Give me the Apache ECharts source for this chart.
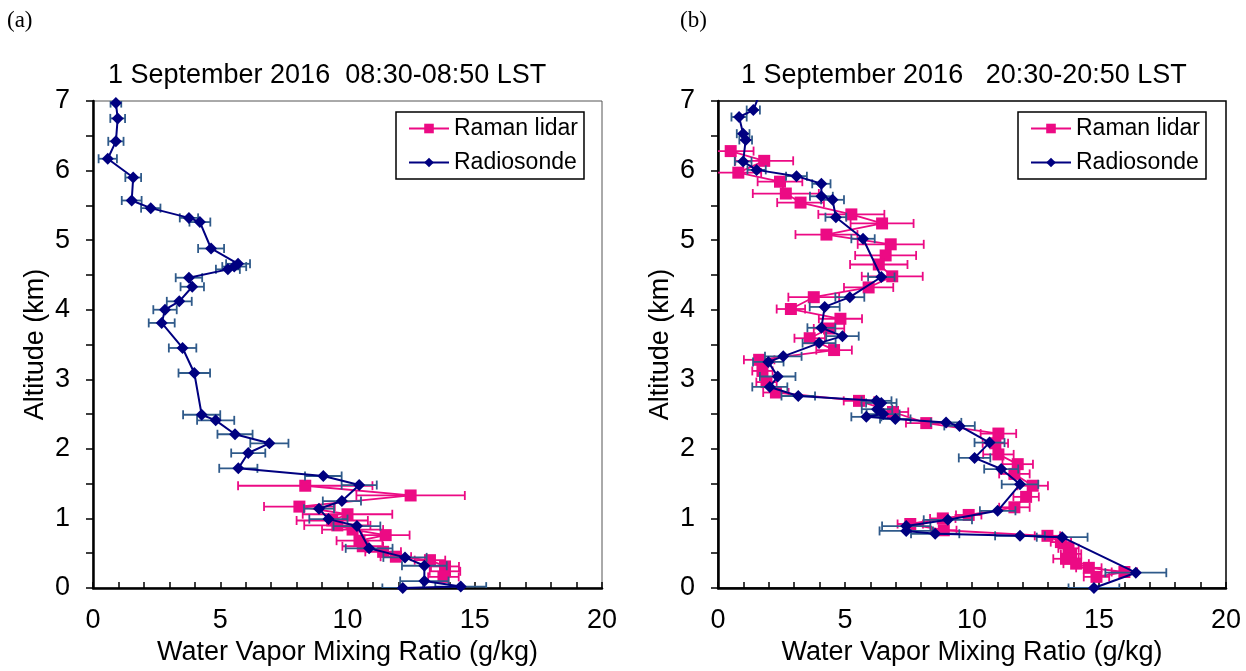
<!DOCTYPE html>
<html>
<head>
<meta charset="utf-8">
<script src="https://cdn.jsdelivr.net/npm/echarts@6/dist/echarts.min.js"></script>
<style>html,body{margin:0;padding:0;background:#fff}#c{width:1246px;height:671px}</style>
</head>
<body>
<div id="c"></div>
<script>
// ---------- Panel (a): 1 September 2016 08:30-08:50 LST ----------
const aSondeX = [0.90,0.97,0.90,0.58,1.58,1.52,2.27,3.77,4.20,4.64,5.70,5.55,5.30,3.77,3.90,3.39,2.83,2.70,3.52,3.98,4.27,4.82,5.58,6.93,6.10,5.71,9.05,10.46,9.78,8.88,9.25,10.37,10.85,12.26,13.02,13.02,14.45,12.17];
const aSondeY = [6.97,6.75,6.42,6.17,5.90,5.57,5.46,5.32,5.26,4.88,4.66,4.62,4.58,4.46,4.33,4.12,4.00,3.81,3.45,3.09,2.49,2.41,2.21,2.08,1.94,1.72,1.61,1.48,1.25,1.14,0.99,0.89,0.57,0.44,0.32,0.10,0.02,0.00];
const aSondeErr = [0.21,0.29,0.30,0.36,0.31,0.39,0.38,0.36,0.41,0.51,0.47,0.47,0.47,0.52,0.46,0.49,0.46,0.51,0.54,0.62,0.73,0.73,0.69,0.75,0.67,0.75,0.72,0.69,0.75,0.59,0.75,0.92,0.92,0.85,0.88,0.95,1.00,0.80];
const aLidarX = [8.34,12.48,8.11,10.00,9.40,9.60,10.20,11.50,10.47,10.60,11.40,11.90,13.24,13.83,13.83,13.77];
const aLidarY = [1.47,1.33,1.17,1.06,0.97,0.90,0.84,0.76,0.68,0.60,0.52,0.45,0.40,0.31,0.24,0.16];
const aLidarErr = [2.64,2.13,1.39,1.76,1.40,1.30,1.20,0.94,0.90,0.80,0.70,0.60,0.60,0.55,0.60,0.60];

// ---------- Panel (b): 1 September 2016 20:30-20:50 LST ----------
const bSondeX = [1.75,1.39,0.83,0.99,1.09,0.99,1.52,3.09,4.07,4.07,4.51,4.64,5.71,6.43,5.19,4.20,4.07,4.90,3.98,2.57,1.98,2.35,2.04,3.16,6.24,6.43,6.26,6.50,5.84,6.98,8.98,9.51,10.69,10.10,11.15,11.89,11.01,9.05,7.41,7.41,8.55,11.89,13.55,16.45,14.80];
const bSondeY = [7.20,6.87,6.77,6.53,6.44,6.13,6.01,5.92,5.81,5.63,5.58,5.33,5.02,4.47,4.18,4.04,3.74,3.62,3.52,3.33,3.25,3.04,2.89,2.76,2.69,2.66,2.57,2.50,2.46,2.43,2.38,2.33,2.09,1.87,1.71,1.49,1.11,0.98,0.89,0.82,0.78,0.75,0.73,0.22,0.00];
const bSondeErr = [0.26,0.26,0.30,0.25,0.25,0.33,0.36,0.41,0.36,0.45,0.45,0.41,0.46,0.52,0.57,0.59,0.55,0.64,0.65,0.72,0.60,0.70,0.69,0.66,0.59,0.60,0.60,0.65,0.59,0.60,0.60,0.60,0.59,0.62,0.67,0.72,0.70,0.95,0.95,1.05,0.95,0.98,1.00,1.20,1.00];
const bLidarX = [0.50,1.82,0.80,2.44,2.67,3.25,5.25,6.46,4.27,6.80,6.60,6.33,6.86,5.93,3.77,2.87,4.82,4.37,3.61,4.57,1.62,1.75,1.91,2.28,5.55,6.89,8.20,11.04,10.92,11.04,11.80,11.67,12.39,12.13,11.67,9.87,8.85,7.57,8.89,12.97,13.50,13.80,13.90,13.70,14.10,14.60,16.00,14.90];
const bLidarY = [6.28,6.14,5.97,5.84,5.67,5.54,5.37,5.24,5.08,4.94,4.78,4.65,4.48,4.32,4.18,4.01,3.87,3.73,3.59,3.42,3.28,3.12,2.96,2.81,2.69,2.53,2.37,2.22,2.08,1.92,1.78,1.64,1.47,1.31,1.16,1.05,1.00,0.92,0.83,0.75,0.66,0.57,0.49,0.42,0.35,0.29,0.23,0.16];
const bLidarErr = [0.90,1.14,0.90,0.88,1.30,0.92,1.30,1.24,1.22,1.30,1.20,1.13,1.20,0.97,1.00,0.56,0.85,0.60,0.60,0.70,0.60,0.40,0.40,0.50,0.60,0.60,0.80,0.70,0.50,0.60,0.60,0.60,0.60,0.50,0.60,0.50,0.50,0.50,0.50,0.50,0.40,0.40,0.40,0.50,0.50,0.50,0.50,0.50];

const titles = ['1 September 2016  08:30-08:50 LST', '1 September 2016   20:30-20:50 LST'];
const panelLabels = ['(a)', '(b)'];
const xName = 'Water Vapor Mixing Ratio (g/kg)';
const yName = 'Altitude (km)';
const names = ['Raman lidar', 'Radiosonde'];

const PINK = '#EC0A84';
const NAVY = '#000080';
const SONDE_ERR = '#2F5A8A';
const FONT = 'Liberation Sans, Arial, sans-serif';
const FS = 27;

function zip(x, y, e) { return x.map((v, i) => e ? [v, y[i], e[i]] : [v, y[i]]); }

function errRender(color) {
  return function (params, api) {
    const x = api.value(0), y = api.value(1), e = api.value(2);
    const lo = Math.max(0, x - e), hi = Math.min(20, x + e);
    const p1 = api.coord([lo, y]), p2 = api.coord([hi, y]);
    const h = 4.5;
    const st = { stroke: color, lineWidth: 1.8 };
    const ch = [{ type: 'line', shape: { x1: p1[0], y1: p1[1], x2: p2[0], y2: p2[1] }, style: st }];
    if (x - e >= 0) ch.push({ type: 'line', shape: { x1: p1[0], y1: p1[1] - h, x2: p1[0], y2: p1[1] + h }, style: st });
    if (x + e <= 20) ch.push({ type: 'line', shape: { x1: p2[0], y1: p2[1] - h, x2: p2[0], y2: p2[1] + h }, style: st });
    return { type: 'group', children: ch };
  };
}

const grids = [
  { left: 93, top: 101, width: 509, height: 487, show: true, borderColor: '#555', borderWidth: 1, backgroundColor: 'transparent' },
  { left: 718, top: 101, width: 508, height: 487, show: true, borderColor: '#000', borderWidth: 1.5, backgroundColor: 'transparent' }
];

function xAxisFor(i) {
  return {
    type: 'value', gridIndex: i, min: 0, max: 20, interval: 5,
    name: xName, nameLocation: 'middle', nameGap: 46,
    nameTextStyle: { fontFamily: FONT, fontSize: FS, color: '#000' },
    axisLine: { show: true, onZero: false, lineStyle: { color: '#000', width: 2.5 } },
    axisTick: { show: true, inside: true, length: 6, lineStyle: { color: '#000', width: 1.5 } },
    minorTick: { show: true, splitNumber: 5, length: 6, lineStyle: { color: '#000', width: 1.5 } },
    axisLabel: { fontFamily: FONT, fontSize: FS, color: '#000', margin: 19 },
    splitLine: { show: false }
  };
}
function yAxisFor(i) {
  return {
    type: 'value', gridIndex: i, min: 0, max: 7, interval: 1,
    name: yName, nameLocation: 'middle', nameGap: 44, nameRotate: 90,
    nameTextStyle: { fontFamily: FONT, fontSize: FS, color: '#000' },
    axisLine: { show: true, onZero: false, lineStyle: { color: '#000', width: 2.5 } },
    axisTick: { show: true, inside: false, length: 7, lineStyle: { color: '#000', width: 1.5 } },
    minorTick: { show: true, splitNumber: 2, length: 7, lineStyle: { color: '#000', width: 1.5 } },
    axisLabel: { fontFamily: FONT, fontSize: FS, color: '#000', margin: 23 },
    splitLine: { show: false }
  };
}

function panelSeries(i, lx, ly, le, sx, sy, se) {
  return [
    { type: 'custom', name: 'lidarErr' + i, xAxisIndex: i, yAxisIndex: i, renderItem: errRender(PINK), data: zip(lx, ly, le), z: 2, clip: true },
    { type: 'line', name: names[0], xAxisIndex: i, yAxisIndex: i, data: zip(lx, ly), symbol: 'rect', symbolSize: 12,
      itemStyle: { color: PINK }, lineStyle: { color: PINK, width: 1.8 }, z: 3, clip: true, animation: false },
    { type: 'custom', name: 'sondeErr' + i, xAxisIndex: i, yAxisIndex: i, renderItem: errRender(SONDE_ERR), data: zip(sx, sy, se), z: 4, clip: true },
    { type: 'line', name: names[1], xAxisIndex: i, yAxisIndex: i, data: zip(sx, sy), symbol: 'diamond', symbolSize: 12,
      itemStyle: { color: NAVY }, lineStyle: { color: NAVY, width: 2 }, z: 5, clip: true, animation: false }
  ];
}

function legendFor(left, top) {
  return {
    left: left, top: top, orient: 'vertical', data: names,
    borderColor: '#000', borderWidth: 1.5, padding: [5, 6, 5, 12], itemGap: 11,
    itemWidth: 40, itemHeight: 12,
    textStyle: { fontFamily: FONT, fontSize: 23, color: '#000' },
    selectedMode: false
  };
}

const chart = echarts.init(document.getElementById('c'), null, { renderer: 'canvas' });
chart.setOption({
  animation: false,
  backgroundColor: '#fff',
  title: [
    { text: titles[0], left: 108, top: 62, textStyle: { fontFamily: FONT, fontSize: FS, fontWeight: 'normal', color: '#000' }, padding: 0 },
    { text: titles[1], left: 741, top: 62, textStyle: { fontFamily: FONT, fontSize: FS, fontWeight: 'normal', color: '#000' }, padding: 0 },
    { text: panelLabels[0], left: 7, top: 9, textStyle: { fontFamily: 'Liberation Serif, Times New Roman, serif', fontSize: 23, fontWeight: 'normal', color: '#000' }, padding: 0 },
    { text: panelLabels[1], left: 680, top: 9, textStyle: { fontFamily: 'Liberation Serif, Times New Roman, serif', fontSize: 23, fontWeight: 'normal', color: '#000' }, padding: 0 }
  ],
  legend: [legendFor(396, 112), legendFor(1018, 112)],
  grid: grids,
  xAxis: [xAxisFor(0), xAxisFor(1)],
  yAxis: [yAxisFor(0), yAxisFor(1)],
  series: [].concat(
    panelSeries(0, aLidarX, aLidarY, aLidarErr, aSondeX, aSondeY, aSondeErr),
    panelSeries(1, bLidarX, bLidarY, bLidarErr, bSondeX, bSondeY, bSondeErr)
  )
});
</script>
</body>
</html>
